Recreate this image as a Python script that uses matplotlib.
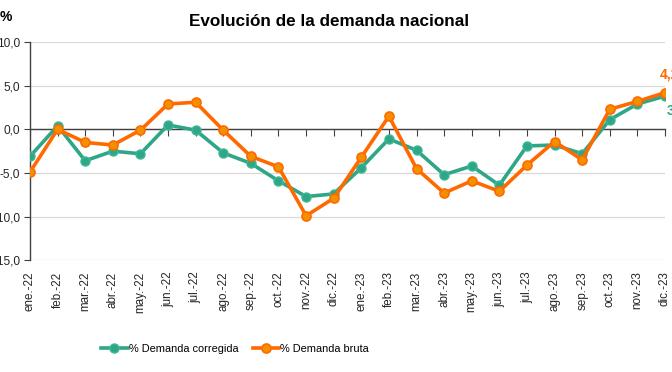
import numpy as np
import matplotlib
matplotlib.use("Agg")
import matplotlib.pyplot as plt
from matplotlib.ticker import FuncFormatter

plt.rcParams['font.family'] = ['Liberation Sans', 'DejaVu Sans']

meses = ["ene.-22", "feb.-22", "mar.-22", "abr.-22", "may.-22", "jun.-22",
         "jul.-22", "ago.-22", "sep.-22", "oct.-22", "nov.-22", "dic.-22",
         "ene.-23", "feb.-23", "mar.-23", "abr.-23", "may.-23", "jun.-23",
         "jul.-23", "ago.-23", "sep.-23", "oct.-23", "nov.-23", "dic.-23"]

corregida = [-3.1, 0.4, -3.6, -2.5, -2.8, 0.5, -0.1, -2.7, -3.9, -5.9, -7.7, -7.4,
             -4.4, -1.1, -2.4, -5.2, -4.2, -6.4, -1.9, -1.8, -2.8, 1.1, 2.9, 3.8]
bruta = [-4.9, 0.0, -1.5, -1.8, -0.1, 2.9, 3.1, -0.1, -3.1, -4.3, -9.9, -7.9,
         -3.2, 1.5, -4.5, -7.3, -5.9, -7.1, -4.1, -1.4, -3.5, 2.3, 3.2, 4.2]

yticks = [-15, -10, -5, 0, 5, 10]

verde = '#2ea687'
naranja = '#ff6a00'

fig = plt.figure(figsize=(6.72, 3.72), dpi=100)
ax = fig.add_axes([30/672, 1 - 260.3/372, 635/672, 218.3/372])

x = np.arange(len(meses))

ax.plot(x, corregida, color=verde, lw=2.6, marker='o', ms=6.5,
        mfc=verde, mec='#3cb896', mew=1, label='% Demanda corregida', zorder=3)
ax.plot(x, bruta, color=naranja, lw=2.6, marker='o', ms=6.5,
        mfc='#f39000', mec=naranja, mew=1.2, label='% Demanda bruta', zorder=4)

ax.set_xlim(0, len(meses) - 1)
ax.set_ylim(-15, 10)
ax.set_yticks(yticks)
ax.yaxis.set_major_formatter(FuncFormatter(lambda v, p: f"{v:.1f}".replace('.', ',')))
ax.grid(axis='y', color='#d9d9d9', lw=0.9)
ax.set_axisbelow(True)

for s in ['top', 'right']:
    ax.spines[s].set_visible(False)
ax.spines['left'].set_color('#404040')
ax.spines['left'].set_linewidth(1)
ax.spines['bottom'].set_position(('data', 0))
ax.spines['bottom'].set_color('#404040')
ax.spines['bottom'].set_linewidth(1)

ax.set_xticks(x)
ax.tick_params(axis='x', direction='out', length=5, color='#404040', labelbottom=False)
ax.tick_params(axis='y', direction='out', length=4, color='#404040', pad=3,
               labelsize=8.6, labelcolor='#262626')

sec = ax.secondary_xaxis('bottom')
sec.set_xticks(x, meses, rotation=90)
sec.tick_params(length=0, pad=8, labelsize=8.4, labelcolor='#262626')
sec.spines['bottom'].set_visible(False)

# etiquetas del ultimo dato
ax.annotate(f"{bruta[-1]:.1f}".replace('.', ','), (x[-1], bruta[-1]),
            xytext=(-4, 8), textcoords='offset points', color=naranja,
            fontsize=10, fontweight='bold', ha='left', va='bottom', annotation_clip=False)
ax.annotate(f"{corregida[-1]:.1f}".replace('.', ','), (x[-1], corregida[-1]),
            xytext=(1, -5), textcoords='offset points', color=verde,
            fontsize=10, fontweight='bold', ha='left', va='top', annotation_clip=False)

fig.text(0.49, 1 - 22/372, 'Evolución de la demanda nacional', ha='center', va='center',
         fontsize=12.3, fontweight='bold')
fig.text(0.0, 1 - 17/372, '%', ha='left', va='center', fontsize=10, fontweight='bold')

fig.legend(loc='center', bbox_to_anchor=(235/672, 1 - 349/372), ncol=2, frameon=False,
           fontsize=7.9, handlelength=2.4, handletextpad=0.1, columnspacing=1.3,
           numpoints=1)

fig.savefig('out.png', dpi=100)
